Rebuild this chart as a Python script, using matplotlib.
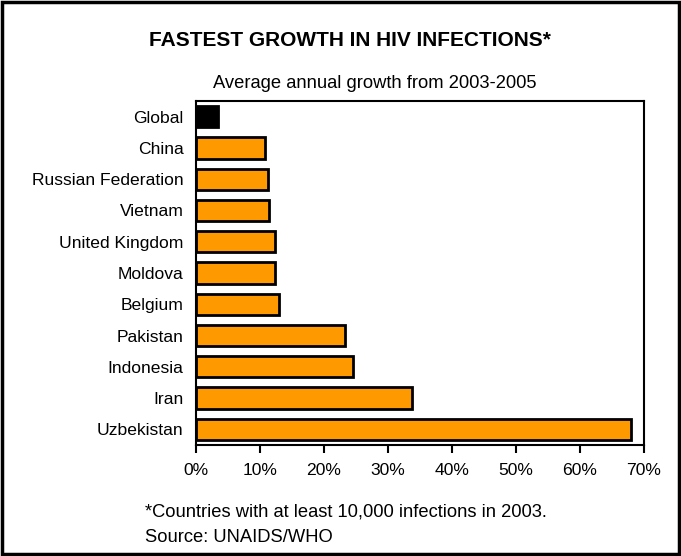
import numpy as np
import matplotlib.pyplot as plt
from matplotlib.patches import Rectangle
from matplotlib.ticker import FuncFormatter

plt.rcParams['font.family'] = ['Liberation Sans', 'DejaVu Sans']

paises = ['Global', 'China', 'Russian Federation', 'Vietnam', 'United Kingdom',
          'Moldova', 'Belgium', 'Pakistan', 'Indonesia', 'Iran', 'Uzbekistan']
crescimento = [3.4, 10.8, 11.3, 11.4, 12.3, 12.4, 12.9, 23.3, 24.5, 33.7, 68.0]
cores = ['black'] + ['#FF9900'] * (len(paises) - 1)

fig = plt.figure(figsize=(6.81, 5.56), dpi=100)
ax = fig.add_axes([196 / 681, 1 - 445 / 556, (644 - 196) / 681, (445 - 101) / 556])

y = np.arange(len(paises))
ax.barh(y, crescimento, height=0.68, color=cores, edgecolor='black', linewidth=2)
ax.set_ylim(len(paises) - 0.5, -0.5)
ax.set_xlim(0, 70)
ax.set_yticks(y)
ax.set_yticklabels(paises, fontsize=12.6)
ax.set_xticks(np.arange(0, 71, 10))
ax.xaxis.set_major_formatter(FuncFormatter(lambda v, p: f'{v:.0f}%'))
ax.tick_params(axis='x', direction='out', length=6, width=1.5, labelsize=12.6, pad=7)
ax.tick_params(axis='y', length=0, pad=9)
for s in ax.spines.values():
    s.set_linewidth(1.5)

# titulo, subtitulo e notas
fig.text(350 / 681, 1 - 40 / 556, 'FASTEST GROWTH IN HIV INFECTIONS*', ha='center', va='center',
         fontsize=15, fontweight='bold')
fig.text(375 / 681, 1 - 84 / 556, 'Average annual growth from 2003-2005', ha='center', va='center',
         fontsize=13.2)
fig.text(145 / 681, 1 - 512 / 556, '*Countries with at least 10,000 infections in 2003.',
         ha='left', va='center', fontsize=13.2)
fig.text(145 / 681, 1 - 537 / 556, 'Source: UNAIDS/WHO', ha='left', va='center', fontsize=13.2)

# moldura em volta da figura
fig.patches.append(Rectangle((0.003, 0.003), 0.994, 0.994, transform=fig.transFigure,
                             fill=False, edgecolor='black', linewidth=2.5))

fig.savefig('out.png', dpi=100)
